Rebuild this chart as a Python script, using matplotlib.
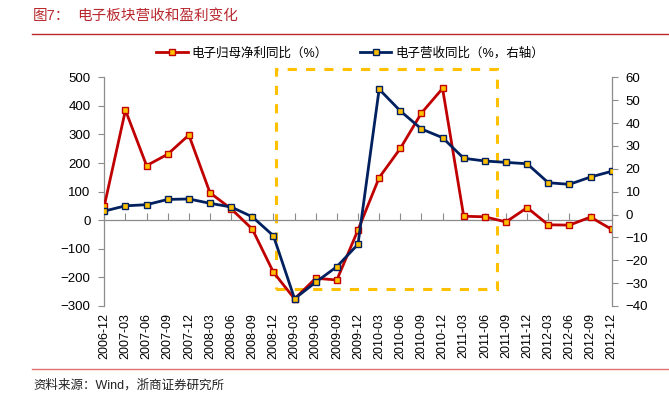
import matplotlib
matplotlib.use("Agg")
import matplotlib.pyplot as plt
import matplotlib.transforms as mtransforms
from matplotlib.patches import Rectangle
from matplotlib.lines import Line2D

plt.rcParams['font.family'] = ['Liberation Sans', 'Noto Sans CJK SC', 'DejaVu Sans']

dates = ["2006-12", "2007-03", "2007-06", "2007-09", "2007-12", "2008-03", "2008-06",
         "2008-09", "2008-12", "2009-03", "2009-06", "2009-09", "2009-12", "2010-03",
         "2010-06", "2010-09", "2010-12", "2011-03", "2011-06", "2011-09", "2011-12",
         "2012-03", "2012-06", "2012-09", "2012-12"]
profit_yoy = [50, 385, 191, 231, 298, 96, 40, -31, -182, -275, -203, -209, -34, 149,
              251, 375, 461, 14, 12, -6, 44, -16, -17, 11, -32]
revenue_yoy = [1.5, 3.8, 4.3, 6.6, 6.8, 4.9, 3.3, -1.0, -9.3, -36.8, -29.6, -22.8, -13.0,
               54.8, 45.3, 37.4, 33.6, 24.6, 23.4, 22.8, 22.2, 13.9, 13.2, 16.4, 18.9]
profit_label = "电子归母净利同比（%）"
revenue_label = "电子营收同比（%，右轴）"
title_num = "图7："
title_text = "电子板块营收和盈利变化"
source_text = "资料来源：Wind，浙商证券研究所"

left_ticks = [-300, -200, -100, 0, 100, 200, 300, 400, 500]
right_ticks = [-40, -30, -20, -10, 0, 10, 20, 30, 40, 50, 60]
box_x = (8.1, 18.56)
box_y = (-242, 529)

RED = "#C00000"
NAVY = "#002060"
GOLD = "#FFC000"
GRAY = "#8C8C8C"

fig = plt.figure(figsize=(6.69, 3.98), dpi=100)
ax = fig.add_axes([104.3 / 669, 1 - 306 / 398, (611.7 - 104.3) / 669, (306 - 77.3) / 398])
ax2 = ax.twinx()

x = list(range(len(dates)))
ax.plot(x, profit_yoy, color=RED, lw=2.0, marker='s', ms=5, mfc=GOLD, mec=RED, mew=1.0, zorder=3)
ax2.plot(x, revenue_yoy, color=NAVY, lw=2.0, marker='s', ms=5, mfc=GOLD, mec=NAVY, mew=1.0, zorder=3)

ax.set_xlim(0, len(dates) - 1)
ax.set_ylim(-300, 500)
ax2.set_ylim(-40, 60)
ax.set_yticks(left_ticks)
ax2.set_yticks(right_ticks)
ax.set_xticks(x)

for a in (ax, ax2):
    a.spines['top'].set_visible(False)
    for s in a.spines.values():
        s.set_color(GRAY)
        s.set_linewidth(0.9)
ax2.spines['bottom'].set_visible(False)
ax2.spines['left'].set_visible(False)
ax.spines['right'].set_visible(False)
ax.spines['bottom'].set_position(('data', 0))

ax.tick_params(axis='x', direction='in', length=5, color=GRAY, labelbottom=False)
ax.tick_params(axis='y', direction='out', length=4, color=GRAY, labelsize=9.5, pad=6)
ax2.tick_params(axis='y', direction='out', length=4, color=GRAY, labelsize=9.5, pad=6)

trans = mtransforms.blended_transform_factory(ax.transData, ax.transAxes)
for xi, d in zip(x, dates):
    ax.text(xi, -0.03, d, transform=trans, rotation=90, ha='center', va='top', fontsize=9)

rect = Rectangle((box_x[0], box_y[0]), box_x[1] - box_x[0], box_y[1] - box_y[0],
                 fill=False, edgecolor=GOLD, lw=2.2, linestyle=(0, (3, 3)), clip_on=False, zorder=2)
ax.add_patch(rect)

# legend
handles = [Line2D([], [], color=RED, lw=2.0, marker='s', ms=5, mfc=GOLD, mec=RED, mew=1.0),
           Line2D([], [], color=NAVY, lw=2.0, marker='s', ms=5, mfc=GOLD, mec=NAVY, mew=1.0)]
fig.legend(handles, [profit_label, revenue_label], loc='center', bbox_to_anchor=(350 / 669, 1 - 53.5 / 398),
           ncol=2, frameon=False, fontsize=9, handlelength=2.5, columnspacing=2.6, handletextpad=0.3)

# title and footer
fig.text(33 / 669, 1 - 16 / 398, title_num, color="#B8282E", fontsize=10.5, va='center', ha='left')
fig.text(77 / 669, 1 - 16 / 398, title_text, color="#B8282E", fontsize=10.5, va='center', ha='left')
fig.add_artist(Line2D([32 / 669, 1.0], [1 - 33.5 / 398, 1 - 33.5 / 398], color="#B8282E", lw=1.0))
fig.add_artist(Line2D([32 / 669, 1.0], [1 - 369 / 398, 1 - 369 / 398], color="#E07070", lw=1.0))
fig.text(33 / 669, 1 - 385 / 398, source_text, color="#222222", fontsize=9, va='center', ha='left')

fig.savefig("out.png", dpi=100)
